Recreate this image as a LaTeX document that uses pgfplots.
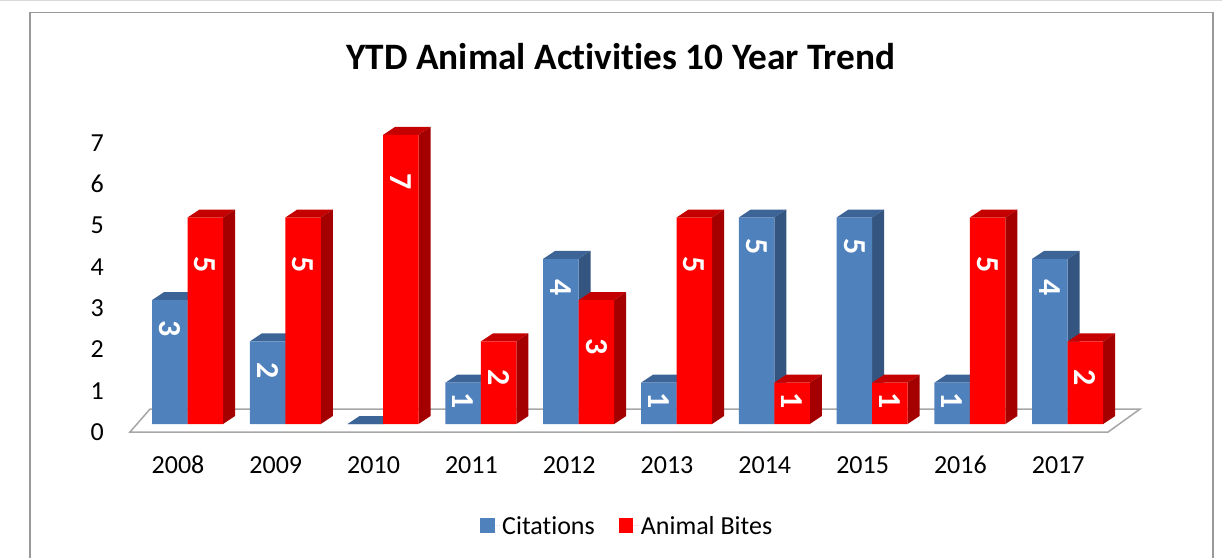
\documentclass[border=0pt]{standalone}
\usepackage{fontspec}
\setmainfont{Carlito}[Ligatures=NoCommon]
\usepackage{pgfplots}
\pgfplotsset{compat=1.18}
\definecolor{cfront}{HTML}{4F81BD}
\definecolor{ctop}{HTML}{3D6497}
\definecolor{cside}{HTML}{34557F}
\definecolor{rfront}{HTML}{FF0000}
\definecolor{rtop}{HTML}{C40000}
\definecolor{rside}{HTML}{A50000}
\newcommand\cubecode[3]{%
  \pgfsetfillcolor{#2}%
  \pgfpathmoveto{\pgfpoint{#1}{0pt}}%
  \pgfpathlineto{\pgfpoint{#1+35.5pt}{0pt}}%
  \pgfpathlineto{\pgfpoint{#1+47.5pt}{8pt}}%
  \pgfpathlineto{\pgfpoint{#1+12pt}{8pt}}%
  \pgfpathclose\pgfusepath{fill}%
  \pgfsetfillcolor{#3}%
  \pgfpathmoveto{\pgfpoint{#1+35.5pt}{0pt}}%
  \pgfpathlineto{\pgfpoint{#1+47.5pt}{8pt}}%
  \pgfpathlineto{\pgfpoint{#1+47.5pt}{8pt-\ry*41.3pt}}%
  \pgfpathlineto{\pgfpoint{#1+35.5pt}{-\ry*41.3pt}}%
  \pgfpathclose\pgfusepath{fill}%
}
\pgfdeclareplotmark{cubeL}{\cubecode{-35.5pt}{ctop}{cside}}
\pgfdeclareplotmark{cubeR}{\cubecode{0pt}{rtop}{rside}}
\begin{document}
\begin{tikzpicture}
\useasboundingbox (0,0) rectangle (1222pt,557pt);
\draw[gray!30, line width=1pt] (0,556.5pt) -- (1222pt,556.5pt);
\draw[gray!80, line width=1.5pt] (30pt,-10pt) -- (30pt,544.5pt) -- (1213pt,544.5pt) -- (1213pt,-10pt);
\node[font=\bfseries\fontsize{37.3}{42}\selectfont] at (621pt,500pt) {YTD Animal Activities 10 Year Trend};
\begin{axis}[
  anchor=origin, at={(187.5pt,133pt)},
  x=97.8pt, y=41.3pt,
  xmin=-0.79, xmax=9.74, ymin=0, ymax=7.2,
  clip=false, clip marker paths=true,
  axis line style={draw=none},
  major tick length=0pt,
  xtick={0,...,9},
  xticklabels={2008,2009,2010,2011,2012,2013,2014,2015,2016,2017},
  ytick={0,...,7},
  /pgf/number format/assume math mode=true,
  tick label style={font=\fontsize{26}{30}\selectfont},
  xticklabel style={anchor=center, yshift=-41pt, xshift=-9.5pt},
  yticklabel style={anchor=center, xshift=-13pt, yshift=-8pt},
  legend style={at={(0.502,-0.343)}, anchor=center, draw=none, fill=none,
    font=\fontsize{26}{30}\selectfont,
    /tikz/every even column/.append style={column sep=22pt}},
  legend columns=2,
  legend image code/.code={\fill[#1] (0pt,-7pt) rectangle (14.5pt,7.5pt); \path (0pt,0pt) -- (20pt,0pt);},
]
\fill[white] (axis cs:-0.588,-0.194) -- (axis cs:9.413,-0.194) -- (axis cs:9.74,0.363) -- (axis cs:-0.383,0.363) -- cycle;
\draw[gray!70, line width=1.5pt] (axis cs:-0.588,-0.194) -- (axis cs:9.413,-0.194) -- (axis cs:9.74,0.363) -- (axis cs:-0.383,0.363) -- cycle;
\addplot[only marks, mark=cubeL, forget plot, visualization depends on={rawy\as\ry}]
  coordinates {(0,3) (1,2) (2,0) (3,1) (4,4) (5,1) (6,5) (7,5) (8,1) (9,4)};
\addplot[ybar, bar width=35.5pt, bar shift=-17.75pt, fill=cfront, draw=none,
  visualization depends on={rawy\as\ry},
  nodes near coords={\pgfmathfloatifflags{\pgfplotspointmeta}{0}{}{\pgfmathprintnumber{\pgfplotspointmeta}}},
  nodes near coords style={white, font=\bfseries\fontsize{32}{34}\selectfont, anchor=center, xshift=-17.75pt, yshift={-min(29,18*\ry)}, rotate=-90}]
  coordinates {(0,3) (1,2) (2,0) (3,1) (4,4) (5,1) (6,5) (7,5) (8,1) (9,4)};
\addlegendentry{Citations}
\addplot[only marks, mark=cubeR, forget plot, visualization depends on={rawy\as\ry}]
  coordinates {(0,5) (1,5) (2,7) (3,2) (4,3) (5,5) (6,1) (7,1) (8,5) (9,2)};
\addplot[ybar, bar width=35.5pt, bar shift=17.75pt, fill=rfront, draw=none,
  visualization depends on={rawy\as\ry},
  nodes near coords={\pgfmathfloatifflags{\pgfplotspointmeta}{0}{}{\pgfmathprintnumber{\pgfplotspointmeta}}},
  nodes near coords style={white, font=\bfseries\fontsize{32}{34}\selectfont, anchor=center, xshift=17.75pt, yshift={-min(47,18*\ry)}, rotate=-90}]
  coordinates {(0,5) (1,5) (2,7) (3,2) (4,3) (5,5) (6,1) (7,1) (8,5) (9,2)};
\addlegendentry{Animal Bites}
\end{axis}
\end{tikzpicture}
\end{document}
